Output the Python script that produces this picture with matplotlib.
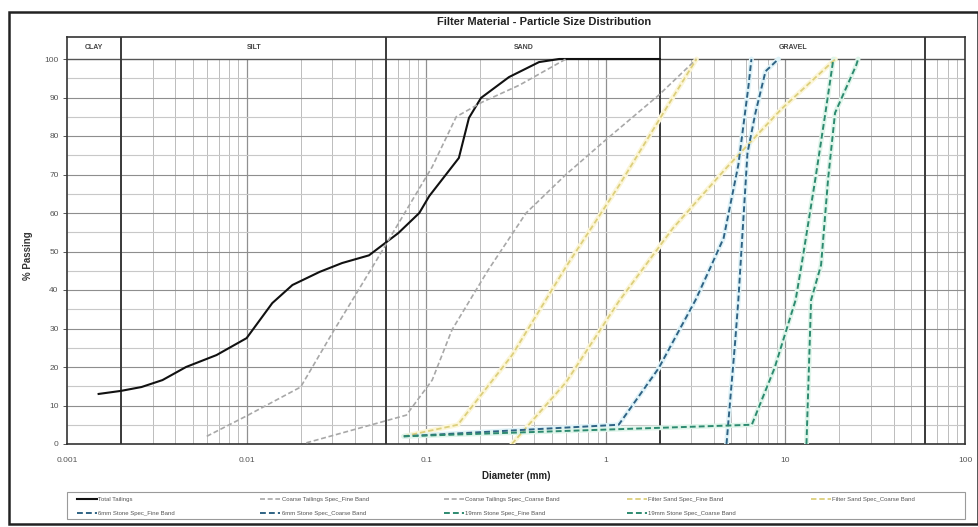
import matplotlib
matplotlib.use("Agg")
import matplotlib.pyplot as plt
from matplotlib.patches import Rectangle
from matplotlib.lines import Line2D

plt.rcParams["font.family"] = ["Liberation Sans", "DejaVu Sans"]

# grading curves: diameter (mm) vs % passing
total_d = [0.0015, 0.002, 0.0026, 0.0034, 0.0046, 0.0068, 0.01, 0.0139, 0.018,
           0.0255, 0.034, 0.048, 0.07, 0.0915, 0.104, 0.152, 0.173, 0.202,
           0.289, 0.425, 0.55, 2.0]
total_p = [13, 13.8, 14.8, 16.6, 20, 23.1, 27.5, 36.6, 41.3,
           44.7, 47, 49, 54.8, 60, 64.4, 74.3, 84.7, 89.9,
           95.3, 99.2, 100, 100]

ct_fine_d = [0.006, 0.01, 0.02, 0.03, 0.053, 0.108, 0.147, 0.205, 0.33, 0.6]
ct_fine_p = [2, 7.3, 14.8, 28.8, 47.8, 72, 85, 88.8, 93.2, 100]

ct_coarse_d = [0.0215, 0.0775, 0.108, 0.139, 0.22, 0.36, 0.6, 1.0, 1.97, 3.2]
ct_coarse_p = [0.3, 7.5, 16.6, 29.6, 45, 60, 70, 79, 90.6, 100]

fs_fine_d = [0.075, 0.15, 0.3, 0.6, 1.18, 2.36, 3.2]
fs_fine_p = [2, 5, 23, 46, 67, 90, 100]

fs_coarse_d = [0.3, 0.6, 1.18, 2.36, 4.75, 9.5, 19]
fs_coarse_p = [0, 16, 37, 56, 72, 87, 100]

s6_fine_d = [0.075, 1.18, 1.97, 3.16, 3.88, 4.53, 5.47, 6.23, 6.47]
s6_fine_p = [2, 5, 19.7, 37.4, 46.5, 53.5, 72.5, 93, 100]

s6_coarse_d = [4.7, 5.26, 5.47, 6.15, 6.81, 7.75, 9.15]
s6_coarse_p = [0, 27, 37.4, 75.6, 86, 96.8, 100]

s19_fine_d = [0.075, 6.5, 8.7, 11.4, 12.3, 14.7, 16.7, 18.5]
s19_fine_p = [2, 5, 19.7, 37.4, 46.5, 69, 86, 100]

s19_coarse_d = [13.1, 13.9, 15.8, 17.3, 18.9, 24.8, 25.4]
s19_coarse_p = [0, 37.4, 46.5, 69, 86, 98.4, 100]

zone_bounds = [0.002, 0.06, 2, 60]
zone_names = ["CLAY", "SILT", "SAND", "GRAVEL"]
zone_mid = [0.00141, 0.011, 0.35, 11]

x_ticks = [0.001, 0.01, 0.1, 1, 10, 100]
x_ticklabels = ["0.001", "0.01", "0.1", "1", "10", "100"]

W, H = 979, 527
fig = plt.figure(figsize=(W / 100, H / 100), dpi=100)
fig.patch.set_facecolor("white")


def fx(px):
    return px / W


def fy(py):
    return 1 - py / H


# outer frame round the whole chart
fig.patches.append(Rectangle((fx(9), fy(524)), (978 - 9) / W, (524 - 12) / H,
                             fill=False, lw=1.8, ec="#222222",
                             transform=fig.transFigure))

ax = fig.add_axes([fx(67), fy(444), (965 - 67) / W, (444 - 37) / H])
ytop = (444 - 37) / 3.85
ax.set_xscale("log")
ax.set_xlim(0.001, 100)
ax.set_ylim(0, ytop)

# log grid, kept below the 100% line
for dec in [0.001, 0.01, 0.1, 1, 10]:
    for k in range(2, 10):
        ax.vlines(k * dec, 0, 100, color="#bcbcbc", lw=0.7, zorder=1)
for dec in [0.01, 0.1, 1, 10]:
    ax.vlines(dec, 0, 100, color="#909090", lw=0.9, zorder=1)
for y in range(5, 100, 5):
    col = "#8e8e8e" if y % 10 == 0 else "#c8c8c8"
    ax.hlines(y, 0.001, 100, color=col, lw=0.8, zorder=1)
ax.hlines(100, 0.001, 100, color="#555555", lw=1.0, zorder=1)

for b in zone_bounds:
    ax.vlines(b, 0, ytop, color="#3a3a3a", lw=1.4, zorder=2)
for name, xm in zip(zone_names, zone_mid):
    ax.text(xm, 102.9, name, ha="center", va="center", fontsize=5,
            fontweight="bold", color="#444444")

dash = (0, (3, 1.6))
series = [
    ("Total Tailings", total_d, total_p, "#111111", "-", 1.5, None),
    ("Coarse Tailings Spec_Fine Band", ct_fine_d, ct_fine_p, "#a8a8a8", dash, 1.2, None),
    ("Coarse Tailings Spec_Coarse Band", ct_coarse_d, ct_coarse_p, "#a8a8a8", dash, 1.2, None),
    ("Filter Sand Spec_Fine Band", fs_fine_d, fs_fine_p, "#dccf7c", dash, 1.3, "#fcf6d8"),
    ("Filter Sand Spec_Coarse Band", fs_coarse_d, fs_coarse_p, "#dccf7c", dash, 1.3, "#fcf6d8"),
    ("6mm Stone Spec_Fine Band", s6_fine_d, s6_fine_p, "#2f6384", dash, 1.4, "#e0f3f8"),
    ("6mm Stone Spec_Coarse Band", s6_coarse_d, s6_coarse_p, "#2f6384", dash, 1.4, "#e0f3f8"),
    ("19mm Stone Spec_Fine Band", s19_fine_d, s19_fine_p, "#2d8a70", dash, 1.4, "#dff5ea"),
    ("19mm Stone Spec_Coarse Band", s19_coarse_d, s19_coarse_p, "#2d8a70", dash, 1.4, "#dff5ea"),
]

for label, d, p, col, ls, lw, halo in series:
    if halo:
        ax.plot(d, p, color=halo, lw=3.5, solid_capstyle="round", zorder=3)
    ax.plot(d, p, color=col, ls=ls, lw=lw, zorder=4, label=label)

for s in ax.spines.values():
    s.set_color("#333333")
    s.set_linewidth(1.2)

ax.set_xticks(x_ticks)
ax.set_xticklabels(x_ticklabels)
ax.set_xticks([], minor=True)
ax.set_yticks(range(0, 101, 10))
ax.tick_params(axis="both", labelsize=6, labelcolor="#555555", color="#555555",
               length=3, width=0.7, pad=3)
ax.tick_params(axis="x", length=0, pad=9)

fig.text(fx(544), fy(22), "Filter Material - Particle Size Distribution",
         ha="center", va="center", fontsize=8, fontweight="bold", color="#222222")
fig.text(fx(516), fy(476), "Diameter (mm)", ha="center", va="center",
         fontsize=7, fontweight="bold", color="#222222")
fig.text(fx(28), fy(256), "% Passing", ha="center", va="center",
         rotation=90, fontsize=7, fontweight="bold", color="#333333")

# legend box laid out on a fixed 5-column grid, two rows
fig.patches.append(Rectangle((fx(67), fy(519)), (965 - 67) / W, (519 - 492) / H,
                             fill=False, lw=0.8, ec="#9a9a9a",
                             transform=fig.transFigure))
row_y = [499, 513]
for i, (label, d, p, col, ls, lw, halo) in enumerate(series):
    row, c = divmod(i, 5)
    x0 = 77 + c * 183.5
    y0 = row_y[row]
    fig.lines.append(Line2D([fx(x0), fx(x0 + 20)], [fy(y0), fy(y0)], color=col,
                            ls=ls, lw=lw, transform=fig.transFigure))
    fig.text(fx(x0 + 21), fy(y0), label, ha="left", va="center",
             fontsize=4.3, color="#555555")

fig.savefig("out.png", dpi=100)
